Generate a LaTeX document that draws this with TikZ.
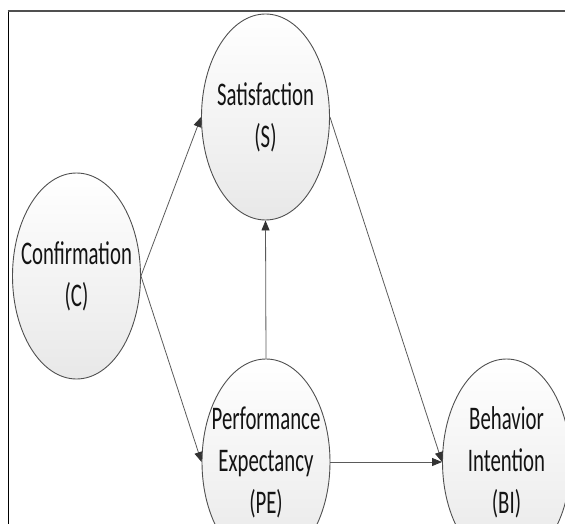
\documentclass[tikz,border=0pt]{standalone}
\usepackage{fontspec}
\usetikzlibrary{shapes.geometric,arrows.meta}
\newfontfamily\labelfont[FakeStretch=0.63]{Carlito}
\definecolor{edgegray}{HTML}{505050}
\definecolor{linegray}{HTML}{5A5A5A}
\definecolor{headgray}{HTML}{333333}
\definecolor{textdark}{HTML}{141414}
\begin{document}
\begin{tikzpicture}[x=1pt,y=-1pt,
  construct/.style={ellipse,draw=edgegray,line width=0.9pt,
    top color=white,bottom color=black!9,
    minimum width=128pt,minimum height=206pt,inner sep=0pt},
  caption/.style={align=center,inner sep=0pt,text=textdark,
    font=\labelfont\fontsize{33}{42}\selectfont},
  path/.style={draw=linegray,line width=0.8pt,
    -{Triangle[length=10pt,width=8pt,fill=headgray,color=headgray]}}]
  \useasboundingbox (0,0) rectangle (565,524);
  % outer frame, cut by the page edge on the right and bottom
  \draw[line width=1pt,black] (8,524) -- (8,11.5);
  \draw[line width=2pt,edgegray] (7.5,11.5) -- (565,11.5);

  % constructs: fixed-size ellipses, the wording sits at their centre
  \node[construct,label={[caption]center:Confirmation\\(C)}] (C) at (76.5,276) {};
  \node[construct,label={[caption]center:Satisfaction\\(S)}] (S) at (265.5,117) {};
  \node[construct,label={[caption]center:Performance\\Expectancy\\(PE)}] (PE) at (266,462) {};
  \node[construct,label={[caption]center:Behavior\\Intention\\(BI)}] (BI) at (506.5,462) {};

  % hypothesised paths
  \draw[path] (C.east) -- (S.west);
  \draw[path] (C.east) -- (PE.west);
  \draw[path] (PE.north) -- (S.south);
  \draw[path] (S.east) -- (BI.west);
  \draw[path] (PE.east) -- (BI.west);
\end{tikzpicture}
\end{document}
